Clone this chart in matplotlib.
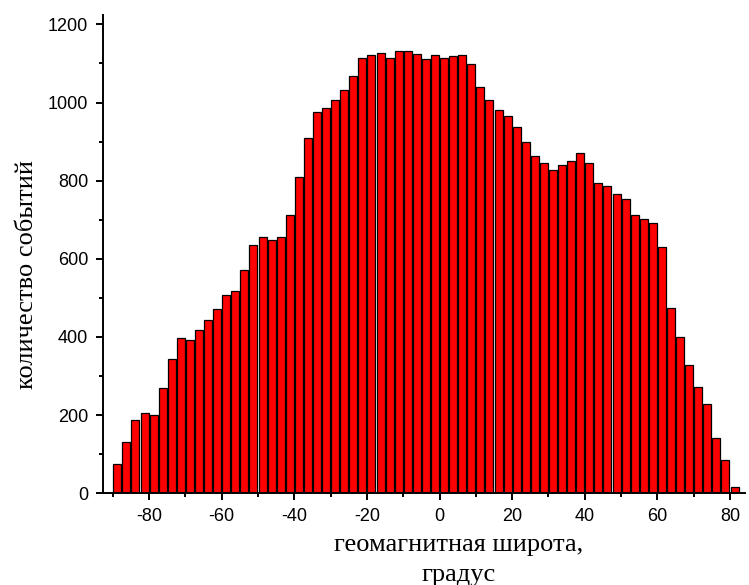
import numpy as np
import matplotlib
matplotlib.use("Agg")
import matplotlib.pyplot as plt
from matplotlib.ticker import MultipleLocator

plt.rcParams['axes.unicode_minus'] = False

# geomagnetic latitude bins, 2.5 degrees wide, from -90 to 82.5
bin_width = 2.5
bin_left = np.arange(-90, 82.5, bin_width)
counts = [74, 131, 186, 206, 201, 268, 344, 397, 391, 417,
          443, 472, 507, 518, 571, 636, 655, 649, 655, 713,
          809, 908, 977, 986, 1006, 1033, 1069, 1115, 1122, 1127,
          1115, 1133, 1132, 1123, 1112, 1121, 1115, 1118, 1121, 1098,
          1040, 1006, 982, 965, 938, 899, 864, 846, 826, 841,
          851, 872, 846, 795, 786, 767, 753, 712, 701, 692,
          630, 475, 401, 327, 272, 228, 140, 84, 15]

xlabel = "геомагнитная широта,\nградус"
ylabel = "количество событий"

fig = plt.figure(figsize=(7.49, 5.85), dpi=100)
ax = fig.add_axes([0.138, 0.157, 0.857, 0.818])

ax.bar(bin_left + bin_width / 2, counts, width=2.2, color='#ff0000',
       edgecolor='black', linewidth=0.9)

ax.set_xlim(-92.6, 84.2)
ax.set_ylim(0, 1225)

ax.xaxis.set_major_locator(MultipleLocator(20))
ax.xaxis.set_minor_locator(MultipleLocator(10))
ax.yaxis.set_major_locator(MultipleLocator(200))
ax.yaxis.set_minor_locator(MultipleLocator(100))

ax.spines['top'].set_visible(False)
ax.spines['right'].set_visible(False)
ax.spines['left'].set_linewidth(1.4)
ax.spines['bottom'].set_linewidth(1.4)

ax.tick_params(which='major', direction='out', length=5, width=1.4,
               labelsize=13, pad=6)
ax.tick_params(which='minor', direction='out', length=3, width=1.4)
for lab in ax.get_xticklabels() + ax.get_yticklabels():
    lab.set_family('Liberation Sans')

ax.set_xlabel(xlabel, family='Liberation Serif', fontsize=19,
              linespacing=1.45)
ax.xaxis.set_label_coords(0.553, -0.086)
ax.set_ylabel(ylabel, family='Liberation Serif', fontsize=19, va='center')
ax.yaxis.set_label_coords(-0.119, 0.456)

fig.savefig("out.png", dpi=100)
